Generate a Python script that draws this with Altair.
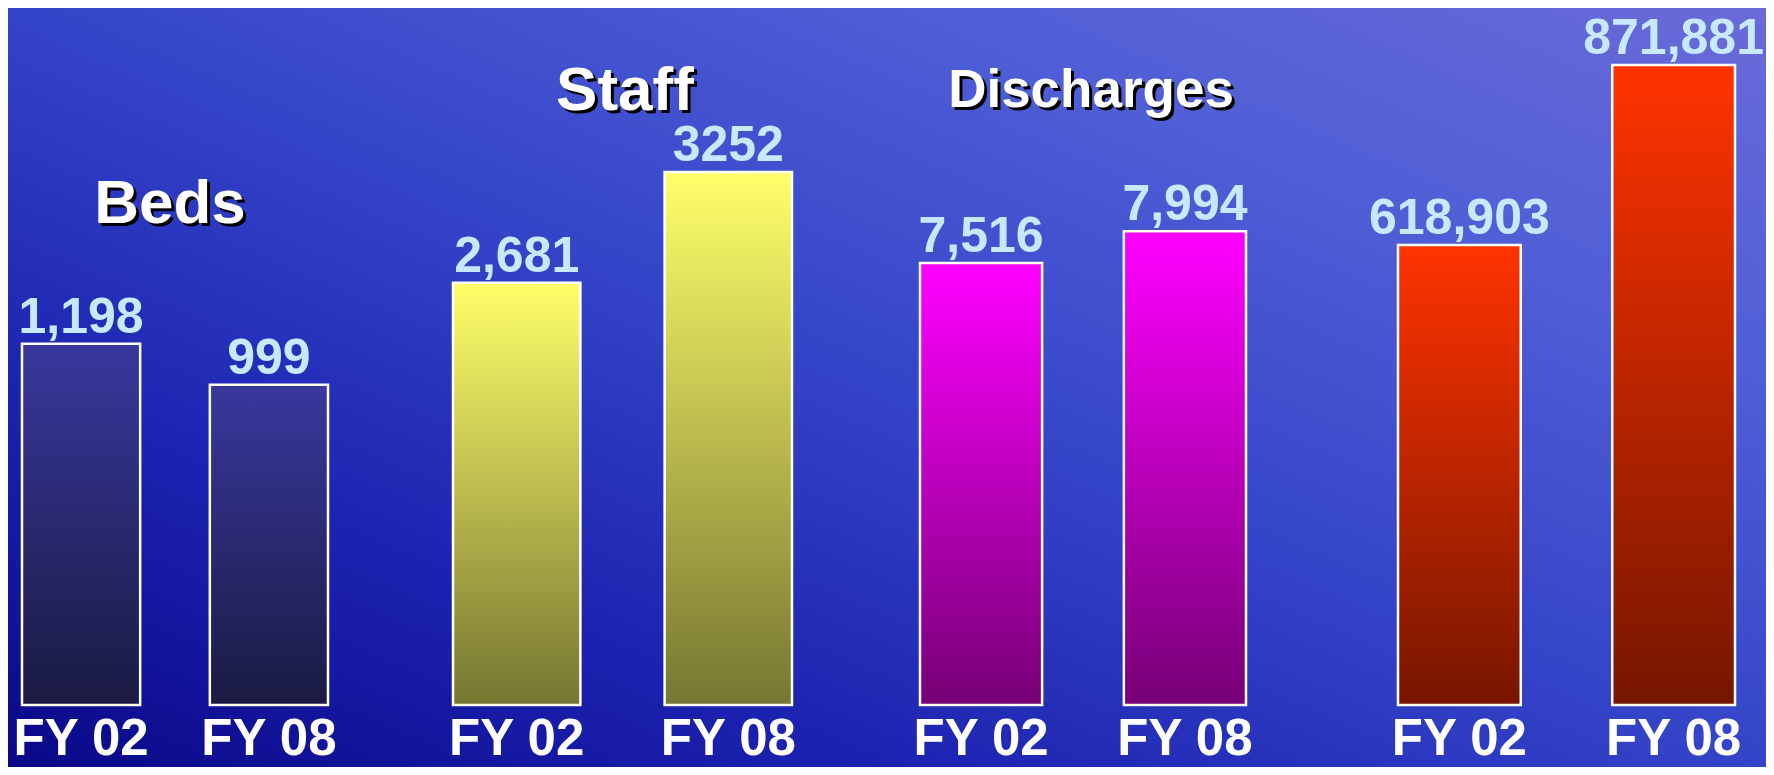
import altair as alt
import pandas as pd

# ---- data ----
groups = ["Beds", "Staff", "Discharges", "Visits"]
years = ["FY 02", "FY 08"]
beds = [1198, 999]
staff = [2681, 3252]
discharges = [7516, 7994]
visits = [618903, 871881]
value_labels = ["1,198", "999", "2,681", "3252", "7,516", "7,994", "618,903", "871,881"]
titles = ["Beds", "Staff", "Discharges", ""]

series = [beds, staff, discharges, visits]
rows = []
for gi, (g, vals) in enumerate(zip(groups, series)):
    for yi, (yr, v) in enumerate(zip(years, vals)):
        rows.append({"group": g, "year": yr, "value": v, "label": value_labels[gi * 2 + yi]})
df = pd.DataFrame(rows)

# ---- layout / style ----
W, H = 1758, 759
BASE = 697
FONT = "Liberation Sans"

# every panel of the slide has its own horizontal placement and vertical scale
panel = {
    #            x range          padInner  y domain              bar gradient (top, bottom)   title (size, x, baseline)
    "Beds":       ([14, 320],     0.371, [-556, 2842],        ("#38389e", "#1a1a42"), (62, 162, 215)),
    "Staff":      ([445, 784],    0.398, [503, 4113],         ("#ffff6a", "#767632"), (62, 617, 102)),
    "Discharges": ([912, 1238],   0.401, [851, 11406],        ("#ff00ff", "#760076"), (53, 1083, 99)),
    "Visits":     ([1390, 1727],  0.427, [-27602, 956206],    ("#ff3300", "#761600"), None),
}


def vgrad(top, bottom):
    return alt.LinearGradient(
        gradient="linear",
        stops=[alt.GradientStop(color=top, offset=0), alt.GradientStop(color=bottom, offset=1)],
        x1=0, y1=0, x2=0, y2=1,
    )


def group_layer(gi, g):
    xr, pin, dom, grad, ttl = panel[g]
    d = df[df["group"] == g]
    xsc = alt.Scale(domain=years, range=xr, paddingInner=pin, paddingOuter=0)
    ysc = alt.Scale(domain=dom, range=[BASE, BASE - 700], zero=False, nice=False)
    x_enc = alt.X("year:N", scale=xsc, axis=None)
    y_enc = alt.Y("value:Q", scale=ysc, axis=None, stack=None)

    bars = alt.Chart(d).mark_bar(fill=vgrad(*grad), stroke="white", strokeWidth=2.5).encode(
        x=x_enc, y=y_enc, y2=alt.datum(dom[0]),
    )
    vals = alt.Chart(d).mark_text(font=FONT, fontWeight="bold", fontSize=50, color="#c8e8ff",
                                  baseline="alphabetic", dy=-11).encode(
        x=x_enc, y=y_enc, text="label:N",
    )
    fy = alt.Chart(d).mark_text(font=FONT, fontWeight="bold", fontSize=51, color="white",
                                baseline="alphabetic").encode(
        x=x_enc, y=alt.value(747), text="year:N",
    )
    parts = [bars, vals, fy]
    if ttl is not None:
        size, tx, ty = ttl
        tdf = pd.DataFrame({"title": [titles[gi]]})
        shadow = alt.Chart(tdf).mark_text(font=FONT, fontWeight="bold", fontSize=size, color="black",
                                          baseline="alphabetic", dx=3, dy=3).encode(
            x=alt.value(tx), y=alt.value(ty), text="title:N")
        front = alt.Chart(tdf).mark_text(font=FONT, fontWeight="bold", fontSize=size, color="white",
                                         baseline="alphabetic").encode(
            x=alt.value(tx), y=alt.value(ty), text="title:N")
        parts += [shadow, front]
    return alt.layer(*parts)


bg = alt.Chart(pd.DataFrame({"k": [0]})).mark_rect(
    fill=alt.LinearGradient(
        gradient="linear",
        stops=[
            alt.GradientStop(color="#0a0888", offset=0),
            alt.GradientStop(color="#1c22b0", offset=0.25),
            alt.GradientStop(color="#3444c8", offset=0.5),
            alt.GradientStop(color="#4e5ed6", offset=0.75),
            alt.GradientStop(color="#6a6ad8", offset=1),
        ],
        x1=0, y1=1, x2=1, y2=0,
    )
).encode(x=alt.value(0), x2=alt.value(W), y=alt.value(0), y2=alt.value(H))

chart = alt.layer(
    bg,
    *[group_layer(i, g) for i, g in enumerate(groups)],
).resolve_scale(x="independent", y="independent").properties(
    width=W, height=H, padding=0,
    autosize=alt.AutoSizeParams(type="none"),
    background="#2a36c0",
).configure_view(stroke=None)

chart.save("out.html", embed_options={"renderer": "svg", "actions": False})
